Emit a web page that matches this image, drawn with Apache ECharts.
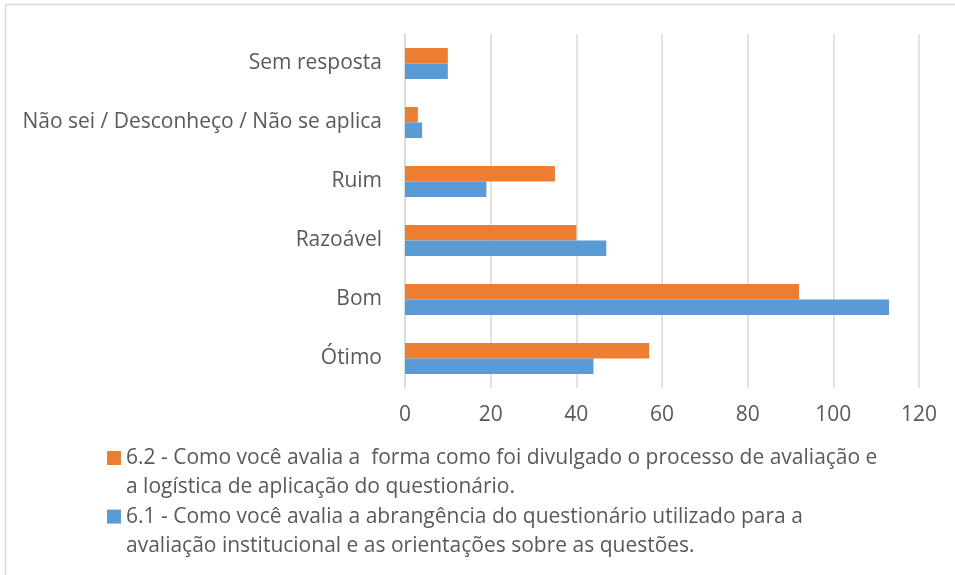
<!DOCTYPE html>
<html>
<head>
<meta charset="utf-8">
<title>Avaliação</title>
<script src="https://cdn.jsdelivr.net/npm/echarts@6/dist/echarts.min.js"></script>
<style>
  html, body { margin: 0; padding: 0; background: #fff; }
  #chart { width: 955px; height: 575px; }
</style>
</head>
<body>
<div id="chart"></div>
<script>
// Answer categories, bottom to top
const categories = ['Ótimo', 'Bom', 'Razoável', 'Ruim', 'Não sei / Desconheço / Não se aplica', 'Sem resposta'];

// Question 6.2 (orange) and 6.1 (blue) answer counts
const q62Name = '6.2 - Como você avalia a  forma como foi divulgado o processo de avaliação e a logística de aplicação do questionário.';
const q62Lines = ['6.2 - Como você avalia a  forma como foi divulgado o processo de avaliação e', 'a logística de aplicação do questionário.'];
const q62Values = [57, 92, 40, 35, 3, 10];

const q61Name = '6.1 - Como você avalia a abrangência do questionário utilizado para a avaliação institucional e as orientações sobre as questões.';
const q61Lines = ['6.1 - Como você avalia a abrangência do questionário utilizado para a', 'avaliação institucional e as orientações sobre as questões.'];
const q61Values = [44, 113, 47, 19, 4, 10];

// Value axis ticks
const xTicks = [0, 20, 40, 60, 80, 100, 120];

const FONT = '"Open Sans", Lato, sans-serif';
const FONT_SIZE = 21;
const LINE_H = 29.3;
const TEXT = '#595959';
const GRID = '#d9d9d9';

// Legend entries wrap onto two lines; a blank leading line keeps the
// marker level with the first line of its text.
const legendLines = {};
legendLines[q62Name] = ' \n' + q62Lines.join('\n');
legendLines[q61Name] = ' \n' + q61Lines.join('\n');

const chart = echarts.init(document.getElementById('chart'), null, { renderer: 'canvas' });
chart.setOption({
  animation: false,
  backgroundColor: '#fff',
  graphic: [{
    type: 'rect',
    shape: { x: 5.5, y: 4.5, width: 1200, height: 1200 },
    style: { fill: 'none', stroke: GRID, lineWidth: 1.5 },
    silent: true
  }],
  grid: { left: 405, right: 36, top: 34, bottom: 187, containLabel: false },
  xAxis: {
    type: 'value',
    min: xTicks[0],
    max: xTicks[xTicks.length - 1],
    interval: xTicks[1] - xTicks[0],
    axisLine: { show: false },
    axisTick: { show: false },
    splitLine: { show: true, lineStyle: { color: GRID, width: 1.5 } },
    axisLabel: { color: TEXT, fontFamily: FONT, fontSize: FONT_SIZE, margin: 17 }
  },
  yAxis: {
    type: 'category',
    data: categories,
    axisLine: { show: true, lineStyle: { color: GRID, width: 1.5 } },
    axisTick: { show: false },
    axisLabel: { color: TEXT, fontFamily: FONT, fontSize: FONT_SIZE, margin: 23, padding: [3, 0, 0, 0] }
  },
  legend: {
    orient: 'vertical',
    left: 107,
    top: 451 - (1.5 * LINE_H - 7),
    height: 400,
    padding: 0,
    itemWidth: 14,
    itemHeight: 14,
    itemGap: -LINE_H,
    icon: 'rect',
    data: [q62Name, q61Name],
    formatter: function (name) { return legendLines[name]; },
    textStyle: { color: TEXT, fontFamily: FONT, fontSize: FONT_SIZE, lineHeight: LINE_H }
  },
  series: [
    {
      name: q62Name,
      type: 'bar',
      data: q62Values,
      itemStyle: { color: '#ed7d31' },
      barGap: '0%',
      barCategoryGap: '47.5%'
    },
    {
      name: q61Name,
      type: 'bar',
      data: q61Values,
      itemStyle: { color: '#5b9bd5' },
      barGap: '0%',
      barCategoryGap: '47.5%'
    }
  ]
});
</script>
</body>
</html>
